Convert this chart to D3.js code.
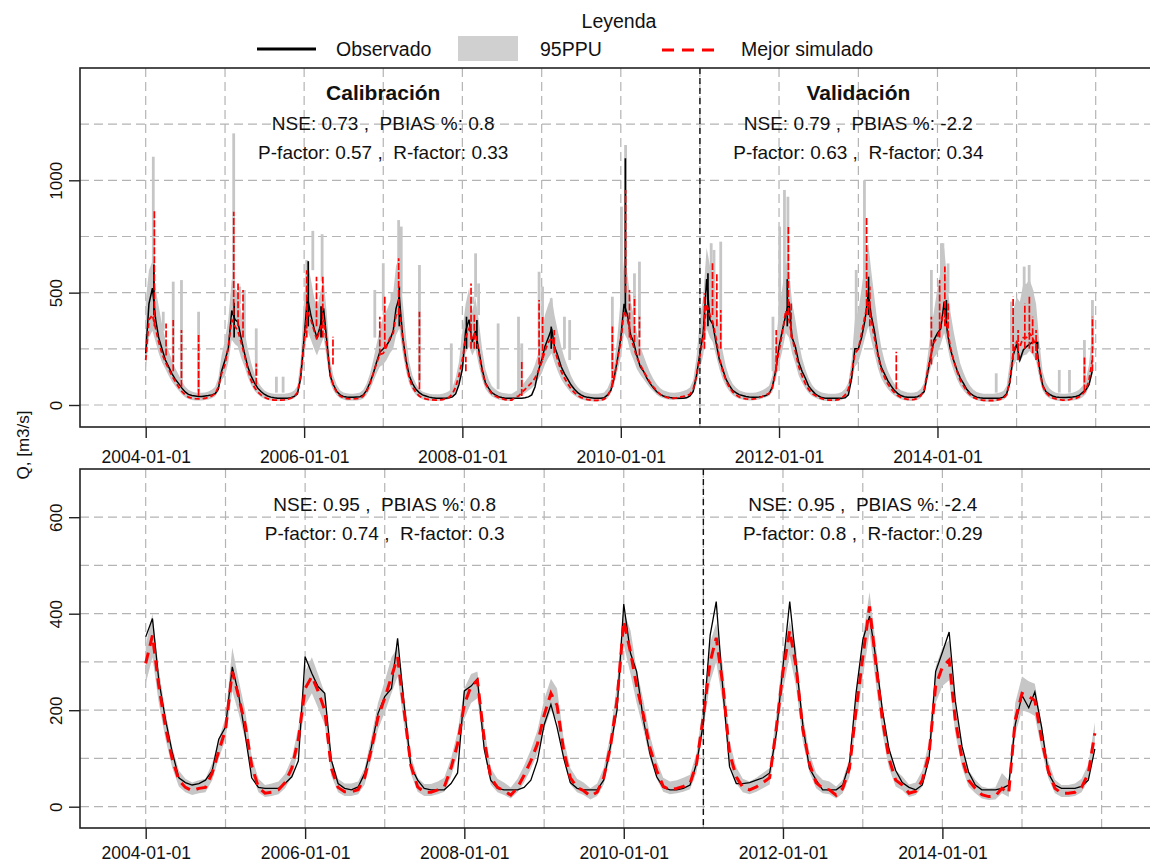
<!DOCTYPE html>
<html><head><meta charset="utf-8">
<script src="https://cdn.jsdelivr.net/npm/d3@7"></script>
<style>
body{margin:0;background:#fff}
svg{display:block;font-family:"Liberation Sans",Arial,Helvetica,sans-serif;overflow:hidden}
</style>
</head><body><svg id="chart" width="1150" height="863"></svg>
<script>
// ---------------- DATA ----------------
// Daily panel, read at the 1st and 16th of each month (Jan 2004 - Dec 2015)
const topObs = [
230,450,520,380,300,250,200,170,140,115,95,75,58,47,42,40,38,38,40,42,45,50,70,150,
200,250,420,380,370,300,230,170,130,100,75,60,48,40,35,32,30,30,30,30,32,38,50,120,
300,480,400,340,300,350,430,280,130,90,60,45,38,36,35,35,36,37,45,65,100,140,190,235,
250,265,290,330,430,480,300,200,130,95,70,55,45,40,35,32,30,30,30,30,32,36,50,90,
160,330,380,280,330,250,160,100,75,55,45,37,33,30,30,30,30,30,30,32,36,45,80,150,
200,260,300,340,260,220,170,140,115,90,70,55,45,38,34,32,30,30,30,32,45,65,120,200,
300,450,400,310,280,220,170,150,120,96,75,59,48,40,36,33,31,30,30,30,32,40,60,130,
230,320,560,380,360,280,200,160,115,88,65,55,46,42,38,36,35,35,36,38,42,50,80,150,
260,330,400,460,300,260,190,150,120,85,65,50,40,33,30,30,30,30,30,30,32,45,120,250,
250,300,380,500,400,330,230,170,140,110,85,65,52,42,37,35,35,35,37,45,60,140,215,290,
320,340,460,320,250,200,156,120,96,70,52,42,35,32,30,30,30,30,30,30,35,50,100,220,
270,200,245,260,270,280,280,170,90,60,48,40,36,34,33,33,35,36,38,42,55,67,90,150];
const topSim = [
200,380,400,340,280,230,190,160,130,105,80,60,45,35,30,28,27,28,30,33,40,50,80,140,
180,260,380,350,330,280,220,160,110,80,58,45,35,28,24,22,22,22,23,25,30,38,55,130,
280,420,380,330,290,340,380,260,140,85,55,40,32,28,27,27,28,30,40,60,95,140,185,225,
230,260,300,320,400,420,300,190,120,80,55,40,32,27,24,23,22,22,24,28,35,50,80,130,
200,300,340,290,320,240,150,95,70,50,40,33,28,24,22,22,35,40,55,70,85,100,120,150,
190,240,280,300,250,200,150,120,95,72,55,42,34,28,24,22,21,21,22,26,40,70,120,200,
280,420,380,300,260,210,180,150,125,100,80,62,48,40,34,30,30,32,35,38,42,48,70,130,
220,300,450,400,370,300,210,150,110,80,58,45,36,30,27,26,26,28,32,38,45,52,75,150,
240,320,420,380,300,240,170,130,95,70,52,42,34,28,24,22,22,22,24,30,45,70,140,230,
250,320,400,460,380,300,220,160,125,95,72,55,42,34,28,25,24,25,30,42,70,150,220,280,
300,360,420,340,260,200,150,110,85,62,45,34,27,23,21,20,20,20,22,25,30,45,110,230,
280,260,300,300,320,300,260,160,85,55,40,32,27,24,22,22,24,28,30,36,48,65,110,200];
const topLow = [
150,300,330,280,230,190,160,130,105,85,65,48,35,27,22,20,20,20,22,25,30,38,60,110,
130,190,290,270,260,210,170,125,90,65,48,36,28,22,20,18,18,18,18,20,24,30,42,95,
210,330,290,250,220,260,300,200,100,65,42,30,24,20,20,20,20,22,28,45,70,105,140,170,
180,200,230,250,310,340,230,150,95,65,45,33,26,21,19,18,18,18,19,22,27,38,60,100,
150,230,260,220,250,180,115,72,52,38,30,25,21,19,18,18,26,30,42,52,64,75,90,115,
140,180,210,230,190,150,115,92,72,55,42,32,26,21,18,17,16,16,17,20,30,52,90,150,
210,320,290,230,200,160,135,115,95,76,60,46,36,30,26,23,22,23,25,28,31,36,52,95,
160,220,340,300,280,220,160,115,85,62,45,35,28,24,21,20,20,22,25,29,34,40,58,110,
180,240,320,300,230,185,130,100,74,55,40,32,26,21,18,17,17,17,18,22,33,50,100,170,
190,240,300,350,290,230,165,120,95,72,55,42,32,26,21,19,18,19,22,31,52,110,165,210,
230,270,320,260,200,155,115,85,65,48,35,27,21,18,16,15,15,15,17,19,23,35,80,170,
200,190,220,225,240,225,195,120,65,42,30,24,20,18,17,17,18,20,22,26,35,48,80,140];
const topUp = [
460,600,640,520,440,360,290,240,200,165,135,105,82,68,60,56,54,54,56,60,68,80,120,220,
290,380,560,520,500,420,330,250,190,140,105,82,66,57,52,50,50,50,50,52,56,64,85,200,
480,640,560,480,430,500,560,400,200,130,88,66,56,52,50,50,52,56,68,95,140,200,270,330,
400,420,460,500,620,660,460,300,190,130,95,72,60,54,50,48,48,48,50,54,62,78,120,190,
330,450,520,420,480,380,250,160,115,85,70,60,55,52,50,50,60,68,85,105,125,145,180,230,
320,400,450,480,400,330,260,210,170,130,100,80,66,58,53,50,50,50,52,56,75,110,180,300,
480,650,580,460,400,320,260,220,180,145,115,92,76,66,60,56,55,56,58,62,68,78,110,210,
380,480,700,620,580,460,330,240,170,125,95,78,66,60,56,54,54,56,60,66,74,86,130,260,
420,520,640,600,460,380,280,210,160,120,90,72,62,56,52,50,50,50,52,58,72,100,200,380,
420,520,640,720,600,480,350,260,200,155,120,95,78,66,60,56,55,56,60,72,100,210,330,420,
520,600,700,540,420,330,250,185,145,110,85,68,58,53,50,50,50,50,52,56,62,85,190,420,
480,460,540,540,560,520,450,280,150,100,75,62,55,52,50,50,52,55,60,68,85,110,180,330];

// Short daily peaks: [date, level at foot, peak value]
const bandPeaks = [
["2004-02-05",550,1105],["2004-03-22",330,415],["2004-05-07",190,549],["2004-06-14",110,556],["2004-09-01",60,415],
["2005-02-10",500,1209],["2005-03-10",450,527],["2005-03-31",300,512],["2005-05-25",130,341],["2005-08-26",55,126],["2005-09-26",55,126],
["2006-01-13",500,645],["2006-02-10",600,775],["2006-03-25",550,760],["2006-11-23",300,512],
["2007-01-01",420,631],["2007-02-10",380,500],["2007-03-13",600,823],["2007-03-25",500,794],["2007-06-17",100,623],["2007-11-11",60,274],
["2008-02-19",450,482],["2008-03-02",480,675],["2008-03-16",400,541],["2008-06-14",70,363],["2008-09-16",60,393],["2008-10-01",60,274],["2008-12-20",250,593],
["2009-01-05",300,527],["2009-02-14",420,475],["2009-04-16",250,393],["2009-05-10",200,378],["2009-11-23",150,482],
["2010-01-04",350,883],["2010-01-23",500,1157],["2010-03-05",400,586],["2010-03-28",300,638],
["2011-01-22",350,482],["2011-02-22",500,720],["2011-03-07",450,690],["2011-04-07",280,727],["2011-12-04",150,393],
["2012-01-04",350,794],["2012-01-26",450,957],["2012-02-11",500,927],["2012-12-22",300,601],
["2013-01-29",450,1000],["2013-02-14",500,660],["2013-12-04",300,601],
["2014-01-19",500,720],["2014-01-26",500,720],["2014-02-19",500,630],["2014-09-29",55,141],["2014-12-08",200,460],
["2015-02-05",400,616],["2015-02-28",420,623],["2015-03-13",400,512],["2015-07-17",55,156],["2015-09-02",55,156],["2015-11-10",90,289],["2015-12-17",250,467]];
const obsPeaks = [
["2004-02-08",400,625],["2005-02-12",300,455],["2006-01-20",350,640],["2006-03-20",300,440],["2007-03-16",350,527],
["2008-01-20",250,393],["2008-03-08",250,378],["2009-02-14",250,349],["2010-01-22",400,1098],["2011-02-07",350,586],
["2012-02-08",350,560],["2013-02-17",400,571],["2014-02-11",350,467],["2015-04-08",250,282]];
const simPeaks = [
["2004-02-10",350,868],["2004-04-04",220,363],["2004-05-07",150,378],["2004-06-14",80,334],["2004-09-01",40,312],
["2005-02-10",400,860],["2005-03-02",350,541],["2005-03-25",300,512],["2005-05-25",90,185],
["2006-01-13",300,600],["2006-02-27",350,571],["2006-03-28",300,571],["2006-05-14",180,304],
["2006-12-16",220,393],["2007-01-08",250,482],["2007-03-13",400,653],["2007-06-17",70,415],
["2008-01-17",150,215],["2008-02-10",250,541],["2008-02-25",250,408],["2008-10-01",40,200],["2008-12-20",180,467],
["2009-01-05",200,393],["2009-02-28",230,334],["2009-11-23",80,349],
["2010-01-23",500,957],["2010-02-10",300,512],["2010-03-05",280,482],["2010-03-28",220,393],
["2011-01-22",250,497],["2011-02-28",400,631],["2011-03-20",350,586],["2011-04-07",250,423],["2011-12-19",150,334],
["2012-02-13",400,794],["2012-02-26",300,452],["2013-02-08",400,838],["2013-02-23",350,527],["2013-06-25",70,237],["2013-12-04",180,393],
["2014-01-11",300,556],["2014-02-04",350,616],["2014-02-19",300,452],["2014-12-16",200,482],
["2015-01-08",200,334],["2015-02-08",250,452],["2015-03-01",250,482],["2015-03-16",230,393],["2015-04-01",200,334],["2015-11-10",60,215],["2015-12-17",150,393]];

// Monthly panel (Jan 2004 - Dec 2015)
const monObs = [
352,390,262,180,114,60,50,45,48,55,75,140,
165,290,235,150,60,40,38,38,38,48,62,95,
311,276,249,235,97,48,38,35,41,69,124,193,
228,245,349,207,83,55,38,35,35,35,48,70,
240,250,265,120,55,38,35,35,35,40,55,95,
170,212,165,100,50,38,35,35,35,55,125,200,
420,318,280,180,110,62,40,35,35,38,45,90,
173,355,425,240,83,48,48,50,55,60,70,150,
290,425,300,170,80,55,35,35,35,45,90,235,
345,395,310,200,120,75,50,40,35,45,100,280,
320,362,220,125,72,45,35,35,35,38,45,170,
231,205,238,165,70,45,38,38,38,42,55,120];
const monSim = [
297,355,250,165,100,55,40,33,38,40,70,115,
160,280,230,170,85,40,28,30,35,50,80,140,
245,270,240,200,80,40,31,31,35,60,120,185,
225,270,310,195,85,41,30,30,35,41,80,130,
212,250,262,140,60,40,33,24,40,65,95,130,
190,235,210,115,60,40,33,22,30,60,125,220,
385,320,250,190,122,75,42,35,38,42,48,90,
187,300,350,250,111,62,40,35,41,50,60,160,
280,365,290,160,90,50,38,35,24,38,80,200,
310,415,300,180,100,55,45,28,32,55,110,250,
290,304,180,100,55,38,25,21,22,38,28,180,
235,228,220,140,75,38,28,28,30,40,69,152];
const monLow = [
255,310,215,140,82,42,30,24,28,30,55,100,
140,240,195,140,68,30,20,22,26,38,62,118,
210,235,205,170,64,30,22,22,26,46,100,160,
195,235,270,165,68,31,22,22,26,31,62,108,
182,215,225,115,46,30,24,17,30,50,78,110,
162,200,178,95,46,30,24,15,22,46,105,190,
335,275,215,160,100,58,31,26,28,31,36,72,
160,258,300,212,90,48,30,26,31,38,46,135,
240,315,248,135,72,38,28,26,17,28,62,172,
268,360,258,152,80,42,34,20,24,42,92,215,
250,262,152,82,42,28,17,14,15,28,20,150,
200,195,188,118,60,28,20,20,22,30,54,130];
const monUp = [
335,400,285,195,125,75,58,50,55,58,90,140,
185,330,265,200,105,58,45,48,52,68,100,165,
280,310,275,235,100,58,48,48,52,80,145,215,
260,310,330,230,105,60,47,47,52,60,100,155,
245,275,280,165,80,58,50,40,58,85,118,158,
222,265,245,140,80,58,50,38,48,80,150,255,
405,365,285,220,148,95,60,52,55,60,66,112,
215,340,380,290,135,82,58,52,60,70,80,190,
320,385,330,190,112,70,56,52,42,56,100,235,
350,445,340,210,122,75,63,46,50,75,135,290,
330,345,210,125,75,56,42,38,40,70,55,215,
270,260,255,170,95,56,45,45,48,58,88,175];

const yearTicks = ["2004-01-01","2006-01-01","2008-01-01","2010-01-01","2012-01-01","2014-01-01"];
const gridYears = ["2004","2005","2006","2007","2008","2009","2010","2011","2012","2013","2014","2015","2016"];
const splitDate = "2011-01-01";
const periodCentres = ["2007-01-01","2013-01-01"];
const periodTitles = ["Calibración","Validación"];
const topStats = [["NSE: 0.73 ,  PBIAS %: 0.8","P-factor: 0.57 ,  R-factor: 0.33"],
                  ["NSE: 0.79 ,  PBIAS %: -2.2","P-factor: 0.63 ,  R-factor: 0.34"]];
const botStats = [["NSE: 0.95 ,  PBIAS %: 0.8","P-factor: 0.74 ,  R-factor: 0.3"],
                  ["NSE: 0.95 ,  PBIAS %: -2.4","P-factor: 0.8 ,  R-factor: 0.29"]];
const topYTicks = [0,500,1000], topYGrid = [0,250,500,750,1000,1250];
const botYTicks = [0,200,400,600], botYGrid = [0,100,200,300,400,500,600];
const legendLabels = ["Observado","95PPU","Mejor simulado"];

// ---------------- CHART ----------------
const parse = d3.utcParse("%Y-%m-%d");
const t0 = parse("2004-01-01"), t1 = parse("2016-01-01");
const halfMonths = d3.utcMonth.range(t0, t1).flatMap(d => [d, d3.utcDay.offset(d, 15)]);
const months = d3.utcMonth.range(t0, t1);

const BAND = "#c6c6c6", GRID = "#b4b4b4", RED = "#ff0000";
const svg = d3.select("#chart");

const panels = [
  {x: d3.scaleUtc().domain([t0,t1]).range([145.7,1095.7]),
   y: d3.scaleLinear().domain([0,1000]).range([405,180.3]),
   box: {x0:80, x1:1161, y0:68, y1:427}, yTicks: topYTicks, yGrid: topYGrid, stats: topStats, titles: true},
  {x: d3.scaleUtc().domain([t0,t1]).range([145.7,1101.6]),
   y: d3.scaleLinear().domain([0,600]).range([806.7,517.2]),
   box: {x0:80, x1:1161, y0:469, y1:828}, yTicks: botYTicks, yGrid: botYGrid, stats: botStats, titles: false}
];

panels.forEach((p, pi) => {
  const b = p.box;
  const g = svg.append("g");
  const cid = "clip" + pi;
  svg.append("clipPath").attr("id", cid).append("rect")
    .attr("x", b.x0).attr("y", b.y0).attr("width", b.x1 - b.x0).attr("height", b.y1 - b.y0);
  const inner = g.append("g").attr("clip-path", `url(#${cid})`);

  // grid
  inner.selectAll(".gy").data(p.yGrid).join("line")
    .attr("x1", b.x0).attr("x2", b.x1).attr("y1", d => p.y(d)).attr("y2", d => p.y(d))
    .attr("stroke", GRID).attr("stroke-width", 1.2).attr("stroke-dasharray", "9,5");
  inner.selectAll(".gx").data(gridYears).join("line")
    .attr("x1", d => p.x(parse(d + "-01-01"))).attr("x2", d => p.x(parse(d + "-01-01")))
    .attr("y1", b.y0).attr("y2", b.y1)
    .attr("stroke", GRID).attr("stroke-width", 1.2).attr("stroke-dasharray", "9,5");

  if (pi === 0) {
    const rows = halfMonths.map((d, i) => ({d, o: topObs[i], s: topSim[i], lo: topLow[i], hi: topUp[i]}));
    inner.append("path").datum(rows)
      .attr("d", d3.area().defined(r => r.lo != null).x(r => p.x(r.d)).y0(r => p.y(r.lo)).y1(r => p.y(r.hi)))
      .attr("fill", BAND);
    inner.selectAll(".bp").data(bandPeaks).join("line")
      .attr("x1", d => p.x(parse(d[0]))).attr("x2", d => p.x(parse(d[0])))
      .attr("y1", d => p.y(d[1])).attr("y2", d => p.y(d[2]))
      .attr("stroke", BAND).attr("stroke-width", 2.8);
    inner.append("path").datum(rows)
      .attr("d", d3.line().defined(r => r.o != null).x(r => p.x(r.d)).y(r => p.y(r.o)))
      .attr("fill", "none").attr("stroke", "#000").attr("stroke-width", 1.5);
    inner.selectAll(".op").data(obsPeaks).join("line")
      .attr("x1", d => p.x(parse(d[0]))).attr("x2", d => p.x(parse(d[0])))
      .attr("y1", d => p.y(d[1])).attr("y2", d => p.y(d[2]))
      .attr("stroke", "#000").attr("stroke-width", 1.7);
    inner.append("path").datum(rows)
      .attr("d", d3.line().defined(r => r.s != null).x(r => p.x(r.d)).y(r => p.y(r.s)))
      .attr("fill", "none").attr("stroke", RED).attr("stroke-width", 1.8).attr("stroke-dasharray", "5,3");
    inner.selectAll(".sp").data(simPeaks).join("line")
      .attr("x1", d => p.x(parse(d[0]))).attr("x2", d => p.x(parse(d[0])))
      .attr("y1", d => p.y(d[1])).attr("y2", d => p.y(d[2]))
      .attr("stroke", RED).attr("stroke-width", 1.7).attr("stroke-dasharray", "7,2");
  } else {
    const rows = months.map((d, i) => ({d, o: monObs[i], s: monSim[i], lo: monLow[i], hi: monUp[i]}));
    inner.append("path").datum(rows)
      .attr("d", d3.area().defined(r => r.lo != null).x(r => p.x(r.d)).y0(r => p.y(r.lo)).y1(r => p.y(r.hi)))
      .attr("fill", BAND);
    inner.append("path").datum(rows)
      .attr("d", d3.line().defined(r => r.o != null).x(r => p.x(r.d)).y(r => p.y(r.o)))
      .attr("fill", "none").attr("stroke", "#000").attr("stroke-width", 1.3);
    inner.append("path").datum(rows)
      .attr("d", d3.line().defined(r => r.s != null).x(r => p.x(r.d)).y(r => p.y(r.s)))
      .attr("fill", "none").attr("stroke", RED).attr("stroke-width", 3).attr("stroke-dasharray", "11,7");
  }

  // split line
  const sx = p.x(parse(splitDate));
  inner.append("line").attr("x1", sx).attr("x2", sx).attr("y1", b.y0).attr("y2", b.y1)
    .attr("stroke", "#111").attr("stroke-width", 1.4).attr("stroke-dasharray", "6,4");

  // texts
  p.stats.forEach((lines, k) => {
    const cx = p.x(parse(periodCentres[k]));
    if (p.titles) {
      g.append("text").attr("x", cx).attr("y", 100).attr("text-anchor", "middle")
        .attr("font-size", 21).attr("font-weight", "bold").attr("fill", "#111").text(periodTitles[k]);
    }
    const base = pi === 0 ? 130 : 511;
    lines.forEach((s, j) => {
      g.append("text").attr("x", cx).attr("y", base + j * 28.5).attr("text-anchor", "middle")
        .attr("font-size", 19).attr("fill", "#111").style("white-space", "pre").text(s);
    });
  });

  // box
  g.append("rect").attr("x", b.x0).attr("y", b.y0).attr("width", b.x1 - b.x0).attr("height", b.y1 - b.y0)
    .attr("fill", "none").attr("stroke", "#222").attr("stroke-width", 1.6);

  // x axis
  const xa = g.append("g").attr("transform", `translate(0,${b.y1})`)
    .call(d3.axisBottom(p.x).tickValues(yearTicks.map(parse)).tickFormat(d3.utcFormat("%Y-%m-%d"))
      .tickSize(11).tickSizeOuter(0).tickPadding(pi === 0 ? 13 : 8));
  xa.select(".domain").remove();
  xa.selectAll("line").attr("stroke", "#222").attr("stroke-width", 1.4);
  xa.selectAll("text").attr("font-size", 17.5).attr("fill", "#111").attr("font-family", null);

  // y axis
  const ya = g.append("g").attr("transform", `translate(${b.x0},0)`)
    .call(d3.axisLeft(p.y).tickValues(p.yTicks).tickFormat(d3.format("d")).tickSize(11).tickSizeOuter(0));
  ya.select(".domain").remove();
  ya.selectAll("line").attr("stroke", "#222").attr("stroke-width", 1.4);
  ya.selectAll("text").attr("x", null).attr("dy", null).attr("text-anchor", "middle")
    .attr("transform", "translate(-18,0) rotate(-90)")
    .attr("font-size", 17).attr("fill", "#111").attr("font-family", null);
});

// y title
svg.append("text").attr("transform", "translate(29,445) rotate(-90)").attr("text-anchor", "middle")
  .attr("font-size", 17).attr("fill", "#111").text("Q, [m3/s]");

// legend
const lg = svg.append("g");
lg.append("text").attr("x", 619).attr("y", 28).attr("text-anchor", "middle").attr("font-size", 19.5).attr("fill", "#111").text("Leyenda");
lg.append("line").attr("x1", 257).attr("x2", 316).attr("y1", 49).attr("y2", 49).attr("stroke", "#000").attr("stroke-width", 3);
lg.append("text").attr("x", 336).attr("y", 56).attr("font-size", 19.5).attr("fill", "#111").text(legendLabels[0]);
lg.append("rect").attr("x", 458).attr("y", 36).attr("width", 60).attr("height", 25).attr("fill", "#d0d0d0");
lg.append("text").attr("x", 540).attr("y", 56).attr("font-size", 19.5).attr("fill", "#111").text(legendLabels[1]);
lg.append("line").attr("x1", 662).attr("x2", 722).attr("y1", 50).attr("y2", 50).attr("stroke", RED).attr("stroke-width", 3).attr("stroke-dasharray", "12,8");
lg.append("text").attr("x", 741).attr("y", 56).attr("font-size", 19.5).attr("fill", "#111").text(legendLabels[2]);
</script></body></html>
